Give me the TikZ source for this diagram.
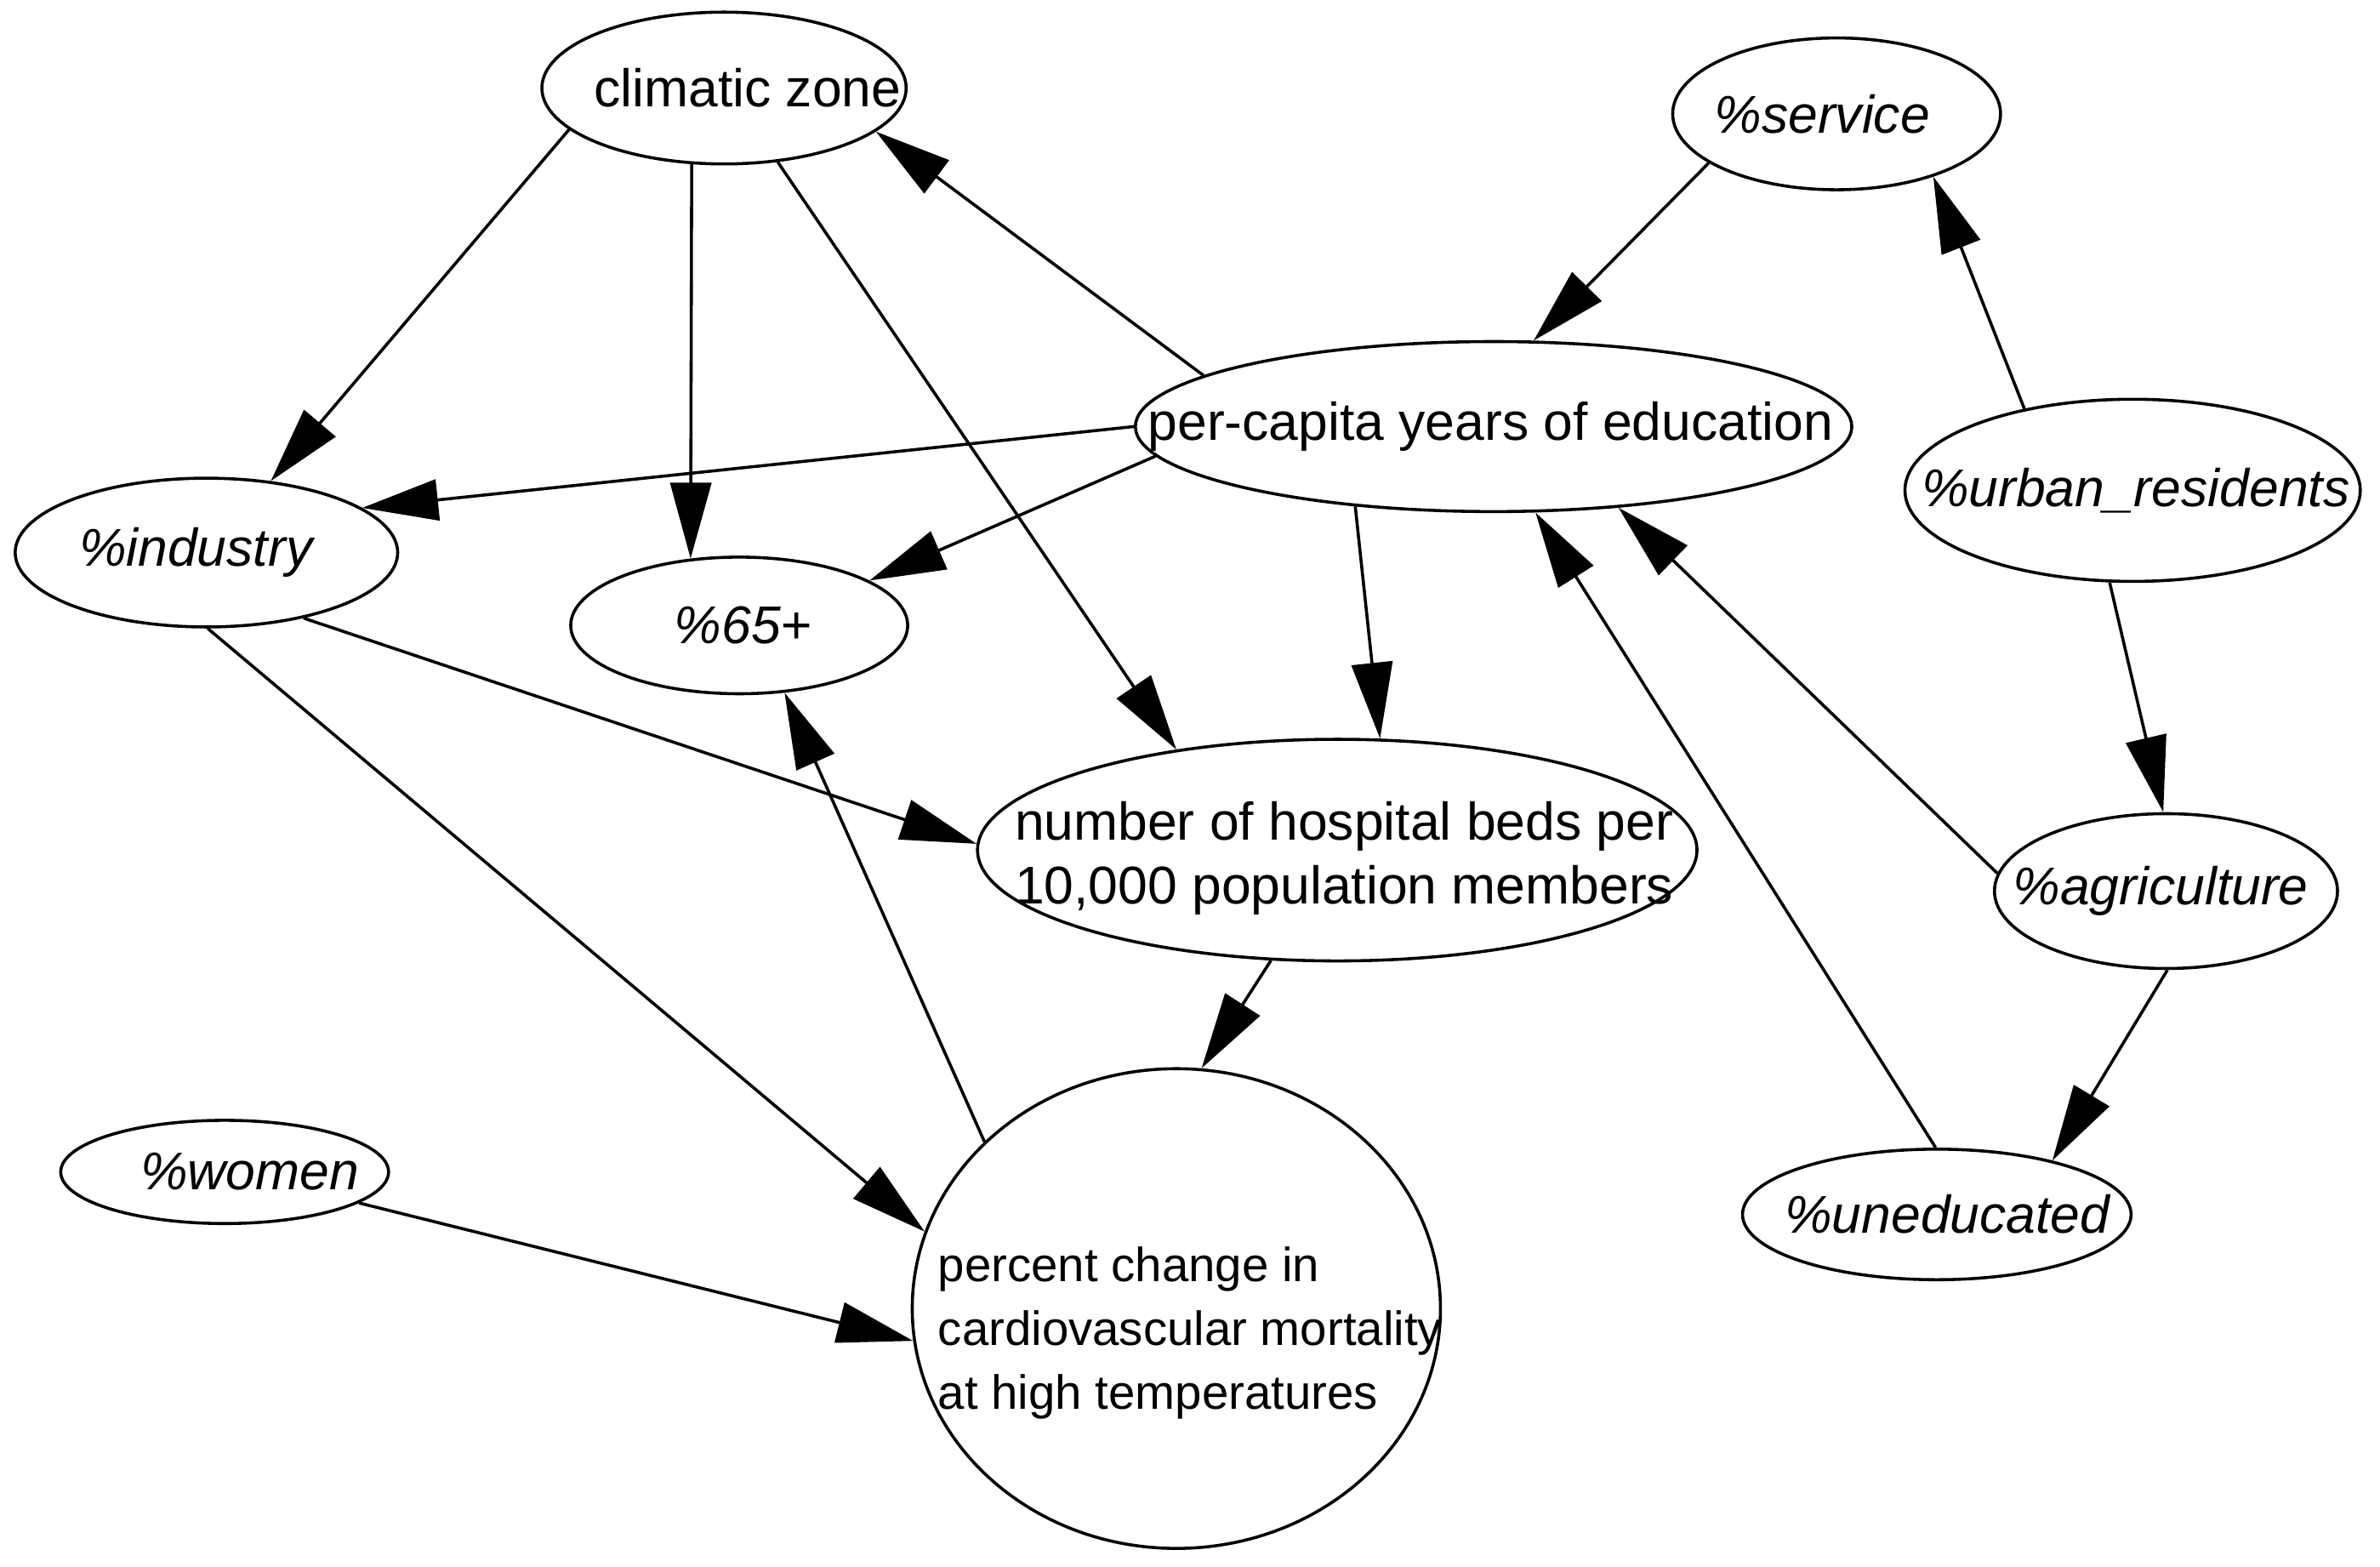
\documentclass[tikz,border=0pt]{standalone}
\usepackage{fontspec}
\setmainfont{Liberation Sans}
\usetikzlibrary{arrows.meta,shapes.geometric}
\newcommand{\etq}[2][0pt]{\makebox[0pt]{\hspace*{#1}#2}}
\newcommand{\etqm}[3][0pt]{\makebox[0pt]{\hspace*{#1}\raisebox{#2}[\height][\depth]{\begin{tabular}{@{}l@{}}#3\end{tabular}}}}
\tikzset{
  nodo/.style={draw,ellipse,line width=1pt,inner sep=0pt,
               font=\fontsize{17.5pt}{21pt}\selectfont},
  nodoi/.style={nodo,font=\fontsize{17.5pt}{21pt}\selectfont\itshape},
  nodoc/.style={nodo,font=\fontsize{15.8pt}{21pt}\selectfont},
  flecha/.style={-{Triangle[length=25pt,width=13.5pt]},line width=1pt},
}
\begin{document}
\begin{tikzpicture}[x=0.5pt,y=-0.5pt]
\useasboundingbox (0,0) rectangle (1568,1032);

\node[nodo,minimum width=120pt,minimum height=50pt] (clim) at (477,58)
  {\etq[15.5pt]{climatic zone}};
\node[nodoi,minimum width=108pt,minimum height=50pt] (serv) at (1210,75)
  {\etq[-9.5pt]{\%service}};
\node[nodo,minimum width=236pt,minimum height=56pt] (educ) at (984,281)
  {\etq[-2pt]{per-capita years of education}};
\node[nodoi,minimum width=150pt,minimum height=60pt] (urban) at (1405,323)
  {\etq[2pt]{\%urban\_residents}};
\node[nodoi,minimum width=126pt,minimum height=49pt] (indus) at (136,364)
  {\etq[-7pt]{\%industry}};
\node[nodoi,minimum width=111pt,minimum height=45pt] (old) at (487,412)
  {\etq[2.5pt]{\%65+}};
\node[nodo,minimum width=237pt,minimum height=73pt] (beds) at (881,560)
  {\etqm[4.5pt]{-3pt}{number of hospital beds per\\10,000 population members}};
\node[nodoi,minimum width=113pt,minimum height=51pt] (agri) at (1427,587)
  {\etq[-3.5pt]{\%agriculture}};
\node[nodoi,minimum width=108pt,minimum height=34pt] (women) at (148,772)
  {\etq[16.5pt]{\%women}};
\node[nodoc,minimum width=174pt,minimum height=158pt] (mort) at (775,862)
  {\etqm[9pt]{-8pt}{percent change in\\cardiovascular mortality\\at high temperatures}};
\node[nodoi,minimum width=128pt,minimum height=43pt] (unedu) at (1276,800)
  {\etq[7pt]{\%uneducated}};

\draw[flecha] (clim.195) -- (indus.48);
\draw[flecha] (clim.247) -- (old.126);
\draw[flecha] (clim.306) -- (beds.148);
\draw[flecha] (educ.170) -- (clim.344);
\draw[flecha] (serv.201) -- (educ.65);
\draw[flecha] (educ.180) -- (indus.16);
\draw[flecha] (educ.185) -- (old.19);
\draw[flecha] (educ.210) -- (beds.69);
\draw[flecha] (urban.143) -- (serv.327);
\draw[flecha] (urban.256) -- (agri.92);
\draw[flecha] (agri.174) -- (educ.327);
\draw[flecha] (unedu.91) -- (educ.296);
\draw[flecha] (agri.271) -- (unedu.25);
\draw[flecha] (indus.326) -- (beds.179);
\draw[flecha] (indus.271) -- (mort.163);
\draw[flecha] (beds.239) -- (mort.84);
\draw[flecha] (mort.139) -- (old.304);
\draw[flecha] (women.347) -- (mort.187);

\end{tikzpicture}
\end{document}
